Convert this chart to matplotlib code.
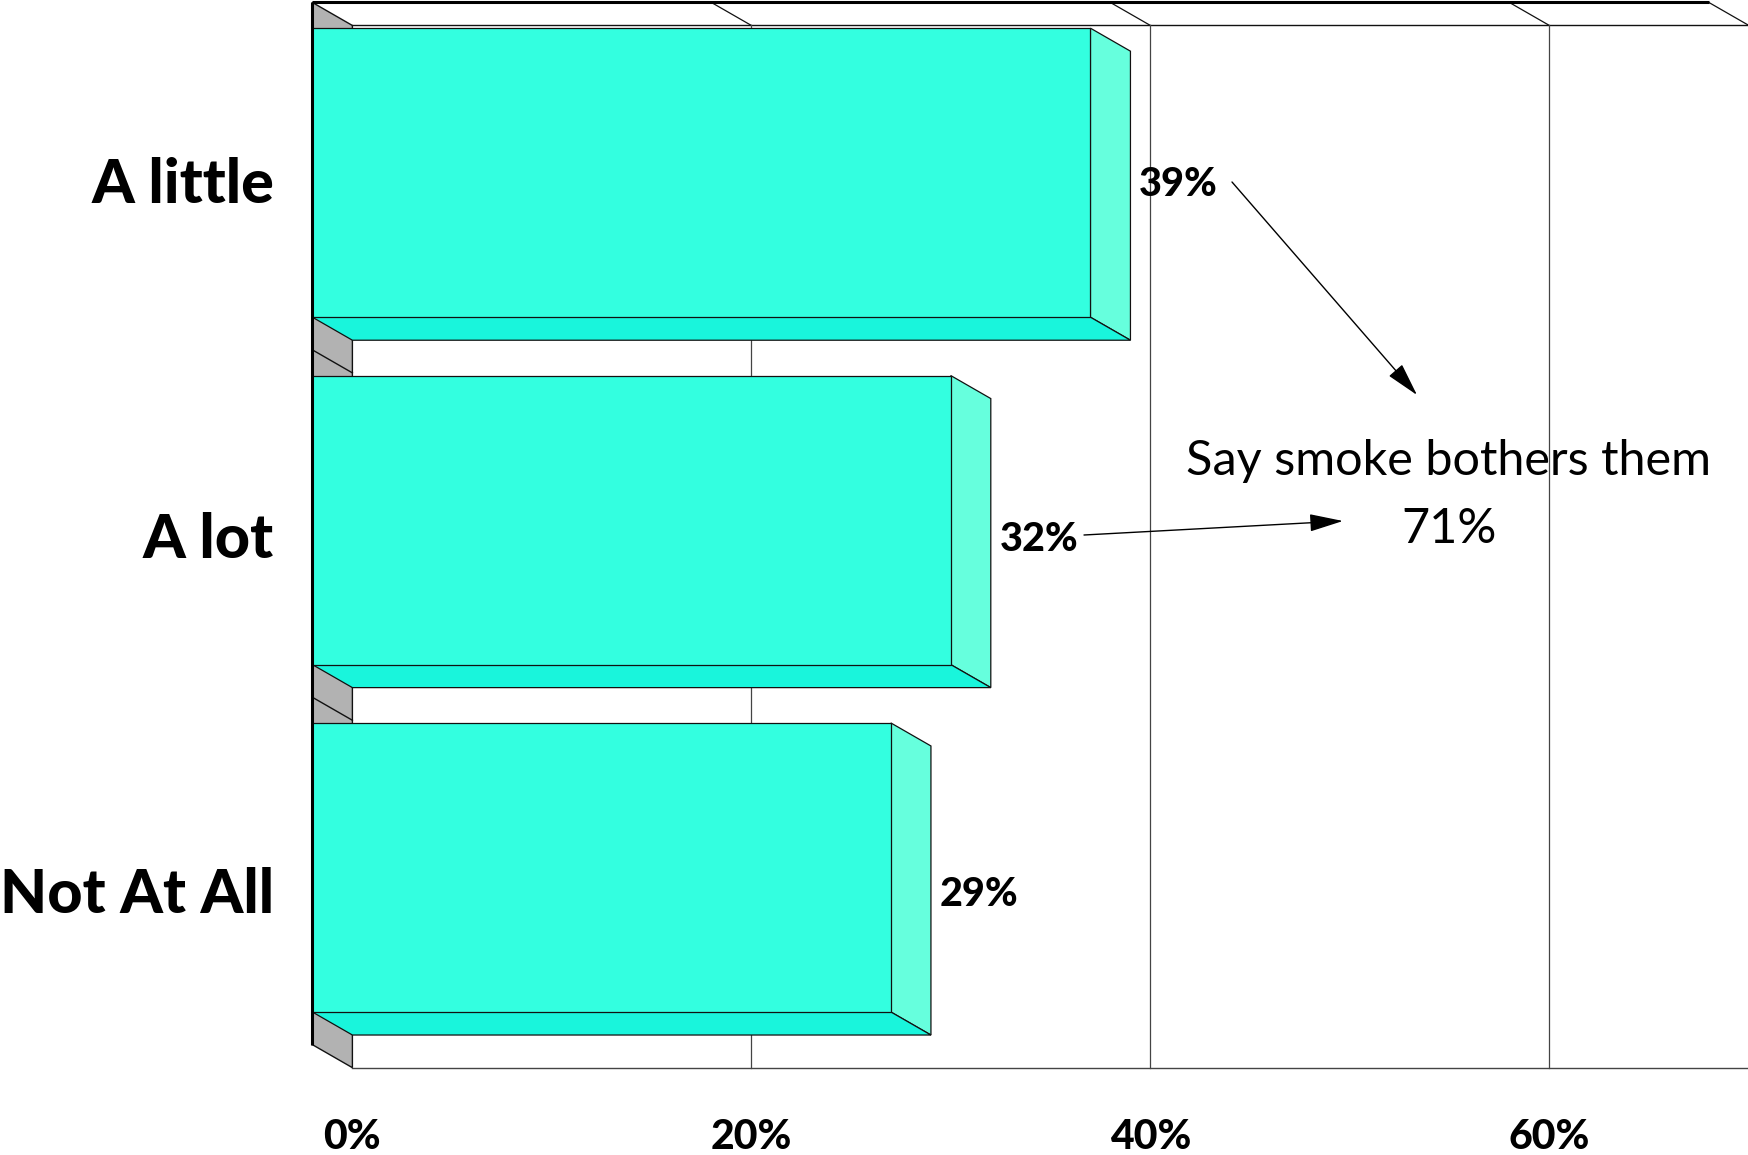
import matplotlib
matplotlib.use("Agg")
from matplotlib import pyplot as plt
from matplotlib.patches import Polygon

categories = ["A little", "A lot", "Not At All"]
values = [39, 32, 29]
x_ticks = [0, 20, 40, 60]
x_tick_labels = ["0%", "20%", "40%", "60%"]
note_lines = ["Say smoke bothers them", "71%"]

FRONT = "#33FFE0"
BOTTOM = "#19F5DC"
SIDE = "#66FFDD"
GREY = "#B2B2B2"
EDGE = "#111111"
GRID = "#444444"

# scale of the picture: pixels per percent / per category
PX_X = 19.95
PX_Y = 347.4
X0, Y0 = 312.4, 172.7
DX = 40 / PX_X  # 3d depth
DY = 23 / PX_Y
HALF = 0.416
XMAX = 70
B0 = -0.49  # first wall boundary


def px(x, y):
    return (x - X0) / PX_X, (y - Y0) / PX_Y


plt.rcParams["font.family"] = ["Lato", "DejaVu Sans"]

fig = plt.figure(figsize=(17.48, 11.55), dpi=100)
ax = fig.add_axes([0, 0, 1, 1])
ax.set_xlim(-X0 / PX_X, (1748 - X0) / PX_X)
ax.set_ylim((1155 - Y0) / PX_Y, -Y0 / PX_Y)
ax.axis("off")

n = len(categories)
B1 = B0 + n

# side wall
ax.add_patch(Polygon([(0, B0), (DX, B0 + DY), (DX, B1 + DY), (0, B1)],
                     fc=GREY, ec=EDGE, lw=1, zorder=1))
for i in range(1, n):
    ax.plot([0, DX], [B0 + i, B0 + i + DY], color=EDGE, lw=1, zorder=2)

# back wall and top
ax.plot([DX, XMAX + DX], [B0 + DY, B0 + DY], color=EDGE, lw=1, zorder=2)
ax.plot([DX, XMAX + DX], [B1 + DY, B1 + DY], color=GRID, lw=1, zorder=2)
for t in x_ticks[1:] + [XMAX]:
    ax.plot([t, t + DX], [B0, B0 + DY], color=EDGE, lw=0.9, zorder=2)
for t in x_ticks[1:]:
    ax.plot([t + DX, t + DX], [B0 + DY, B1 + DY], color=GRID, lw=0.9, zorder=2)

# bars
for i, v in enumerate(values):
    top, bot = i - HALF, i + HALF
    ax.add_patch(Polygon([(v, top), (v + DX, top + DY), (v + DX, bot + DY), (v, bot)],
                         fc=SIDE, ec=EDGE, lw=0.9, zorder=3))
    ax.add_patch(Polygon([(0, bot), (v, bot), (v + DX, bot + DY), (DX, bot + DY)],
                         fc=BOTTOM, ec=EDGE, lw=0.9, zorder=3))
ax.barh(range(n), values, height=2 * HALF, color=FRONT, edgecolor=EDGE, lw=0.9, zorder=4)

# front axis lines
ax.plot([0, 0], [B0, B1], color="black", lw=2.2, zorder=5, solid_capstyle="butt")
ax.plot([0, XMAX], [B0, B0], color="black", lw=2.2, zorder=5, solid_capstyle="butt")

# labels
for i, (c, v) in enumerate(zip(categories, values)):
    ax.text(*px(274, 185 + i * 355), c, ha="right", va="center",
            fontsize=44, fontweight="black", zorder=6)
    ax.text(v + 2.45, px(0, 184 + i * 355)[1], f"{v}%", ha="left", va="center",
            fontsize=28.5, fontweight="black", zorder=6)
for t, lab in zip(x_ticks, x_tick_labels):
    ax.text(t + DX, px(0, 1137)[1], lab, ha="center", va="center",
            fontsize=29.5, fontweight="black", zorder=6)

# callout
ax.text(*px(1448, 461), note_lines[0], ha="center", va="center", fontsize=35, zorder=6)
ax.text(*px(1449, 529), note_lines[1], ha="center", va="center", fontsize=35, zorder=6)
for start, end in [((1232, 182), (1417, 395)), ((1084, 535), (1343, 521))]:
    ax.annotate("", xy=px(*end), xytext=px(*start), zorder=6,
                arrowprops=dict(arrowstyle="-|>,head_length=2.1,head_width=0.55",
                                color="black", lw=1, shrinkA=0, shrinkB=0))

fig.savefig("out.png", dpi=100, facecolor="white")
